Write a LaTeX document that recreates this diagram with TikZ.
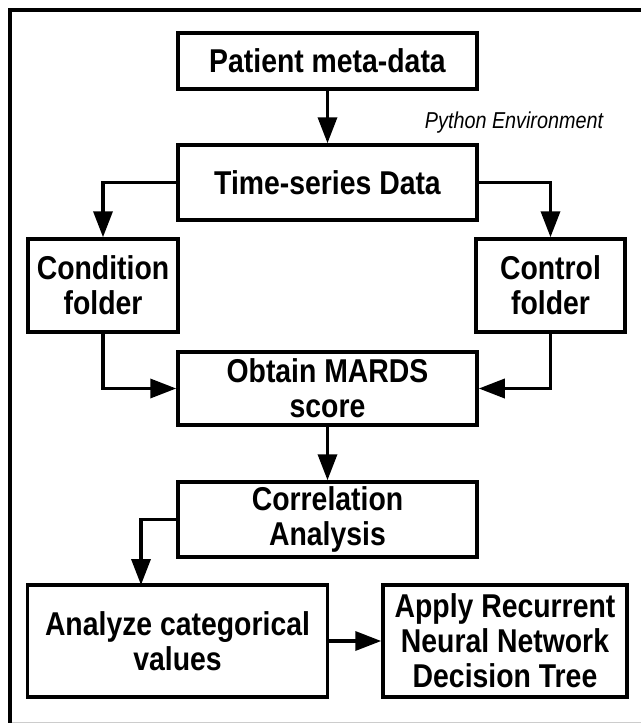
\documentclass[tikz,border=0pt]{standalone}
\usepackage{fontspec}
\setmainfont{Liberation Sans}
\newfontfamily\boxfont{Liberation Sans Bold}[FakeStretch=0.86]
\newfontfamily\envfont{Liberation Sans Italic}[FakeStretch=0.86]
\usetikzlibrary{arrows.meta}
\begin{document}
\begin{tikzpicture}[x=1pt,y=-1pt,
  box/.style={draw, line width=3.5pt, align=center, inner sep=0pt,
    font=\boxfont\fontsize{33}{35}\selectfont},
  arr/.style={line width=3.5pt, -{Triangle[length=26pt,width=19pt]}},
  frame/.style={line width=4pt}]
\useasboundingbox (0,0) rectangle (641,723);
% outer frame
\draw[frame] (9.5,723) -- (9.5,9.5) -- (641,9.5);
\draw[gray!40, line width=1pt] (11.5,722) -- (641,722);
% nodes
\node[box, minimum width=299pt, minimum height=56pt] (pat) at (327.5,61) {Patient meta-data};
\node[font=\envfont\fontsize{23}{26}\selectfont] (env) at (514,123) {Python Environment};
\node[box, minimum width=299pt, minimum height=75pt] (ts) at (327.5,182.5) {Time-series Data};
\node[box, minimum width=150pt, minimum height=93pt] (cond) at (103,285.5) {Condition\\folder};
\node[box, minimum width=149pt, minimum height=93pt] (ctrl) at (550.5,285.5) {Control\\folder};
\node[box, minimum width=299pt, minimum height=73pt] (mards) at (327.5,388.5) {Obtain MARDS\\score};
\node[box, minimum width=299pt, minimum height=75pt] (corr) at (327.5,519.5) {Correlation\\Analysis};
\node[box, minimum width=300pt, minimum height=112pt] (ana) at (177.5,641) {Analyze categorical\\values};
\node[box, minimum width=244pt, minimum height=112pt] (app) at (505,641) {Apply Recurrent\\Neural Network\\Decision Tree};
\coordinate (anatop) at (141,585);
% connectors
\draw[arr] (pat) -- (ts);
\draw[arr] (ts.west) -| (cond.north);
\draw[arr] (ts.east) -| (ctrl.north);
\draw[arr] (cond.south) |- (mards.west);
\draw[arr] (ctrl.south) |- (mards.east);
\draw[arr] (mards) -- (corr);
\draw[arr] (corr.west) -| (anatop);
\draw[arr] (ana) -- (app);
\end{tikzpicture}
\end{document}
